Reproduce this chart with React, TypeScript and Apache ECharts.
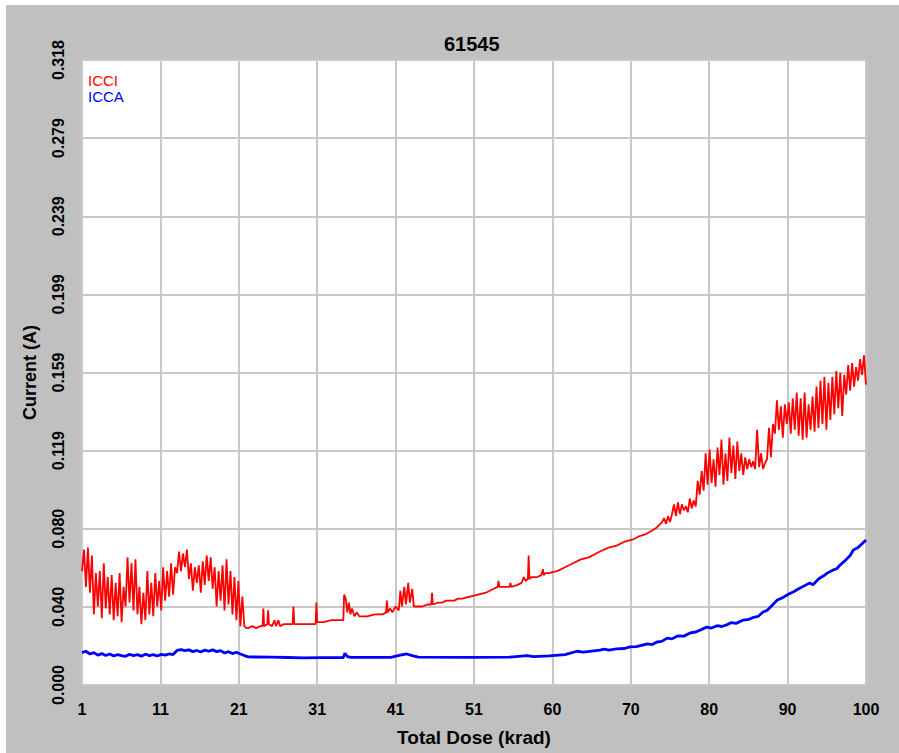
import React, { useEffect, useRef } from "react";
import * as echarts from "echarts";

// Title and axis texts
const chartTitle = "61545";
const xAxisName = "Total Dose (krad)";
const yAxisName = "Current (A)";
const seriesNames = ["ICCI", "ICCA"];

// X tick labels (krad), evenly spaced from 1 to 100
const xTickLabels = ["1", "11", "21", "31", "41", "51", "60", "70", "80", "90", "100"];
// Y axis range (A)
const yMin = 0;
const yMax = 0.3184;
const yStep = 0.0398;

// ICCI (red) — [dose krad, current A]
const icciEarly: [number, number][] = [
  [1.0, 0.058], [1.25, 0.069], [1.5, 0.05], [1.75, 0.07], [2.0, 0.047], [2.25, 0.066],
  [2.5, 0.036], [2.75, 0.057], [3.0, 0.04], [3.25, 0.058], [3.5, 0.034], [3.75, 0.062],
  [4.0, 0.039], [4.25, 0.055], [4.5, 0.036], [4.75, 0.056], [5.0, 0.033], [5.25, 0.052],
  [5.5, 0.035], [5.75, 0.057], [6.0, 0.032], [6.25, 0.05], [6.5, 0.04], [6.75, 0.065],
  [7.0, 0.042], [7.25, 0.062], [7.5, 0.038], [7.75, 0.064], [8.0, 0.036], [8.25, 0.05],
  [8.5, 0.031], [8.75, 0.047], [9.0, 0.033], [9.25, 0.058], [9.5, 0.036], [9.75, 0.052],
  [10.0, 0.035], [10.25, 0.057], [10.5, 0.04], [10.75, 0.053], [11.0, 0.038], [11.25, 0.06],
  [11.5, 0.043], [11.75, 0.058], [12.0, 0.045], [12.25, 0.062], [12.5, 0.046], [12.75, 0.06],
  [13.0, 0.057], [13.25, 0.068], [13.5, 0.058], [13.75, 0.067], [14.0, 0.06], [14.25, 0.069],
  [14.5, 0.054], [14.75, 0.062], [15.0, 0.048], [15.25, 0.06], [15.5, 0.052], [15.75, 0.061],
  [16.0, 0.047], [16.25, 0.063], [16.5, 0.051], [16.75, 0.066], [17.0, 0.053], [17.25, 0.065],
  [17.5, 0.049], [17.75, 0.06], [18.0, 0.04], [18.25, 0.058], [18.5, 0.043], [18.75, 0.061],
  [19.0, 0.038], [19.25, 0.064], [19.5, 0.041], [19.75, 0.058], [20.0, 0.036], [20.25, 0.055],
  [20.5, 0.033], [20.75, 0.053], [21.0, 0.03], [21.25, 0.045], [21.5, 0.03], [21.75, 0.029],
];
const icciMid: [number, number][] = [
  [22.0, 0.029], [22.5, 0.03], [23.0, 0.029], [23.5, 0.03], [23.8, 0.03], [23.9, 0.039],
  [24.0, 0.03], [24.4, 0.031], [24.5, 0.038], [24.6, 0.031], [25.0, 0.03], [25.3, 0.033],
  [25.5, 0.03], [25.8, 0.033], [26.0, 0.03], [26.5, 0.031], [27.0, 0.031], [27.6, 0.031],
  [27.7, 0.04], [27.8, 0.031], [28.5, 0.031], [29.0, 0.031], [29.5, 0.031], [30.0, 0.031],
  [30.5, 0.031], [30.6, 0.042], [30.7, 0.032], [31.5, 0.032], [32.5, 0.033], [33.5, 0.033],
  [34.0, 0.033], [34.1, 0.046], [34.3, 0.044], [34.5, 0.037], [34.7, 0.042], [34.9, 0.036],
  [35.1, 0.039], [35.4, 0.035], [35.7, 0.037], [36.0, 0.035], [37.0, 0.035], [38.0, 0.036],
  [39.0, 0.036], [39.4, 0.037], [39.5, 0.043], [39.6, 0.037], [39.9, 0.039], [40.2, 0.037],
  [40.6, 0.04], [41.0, 0.038], [41.2, 0.048], [41.4, 0.04], [41.7, 0.05], [41.9, 0.041],
  [42.2, 0.052], [42.4, 0.042], [42.7, 0.049], [42.9, 0.04], [43.5, 0.04], [44.0, 0.04],
  [44.6, 0.041], [45.1, 0.041], [45.2, 0.047], [45.3, 0.041], [46.0, 0.042], [46.5, 0.042],
  [47.0, 0.043], [47.5, 0.043], [48.0, 0.043], [48.5, 0.044], [49.0, 0.044], [50.0, 0.045],
  [51.0, 0.046], [52.0, 0.047], [52.5, 0.048], [53.0, 0.049], [53.5, 0.05], [53.6, 0.053],
  [53.7, 0.05], [54.5, 0.05], [55.0, 0.05], [55.1, 0.052], [55.2, 0.05], [56.0, 0.051],
  [56.5, 0.052], [56.8, 0.055], [57.0, 0.053], [57.3, 0.054], [57.4, 0.066], [57.5, 0.054],
  [57.8, 0.055], [58.5, 0.055], [59.0, 0.056], [59.2, 0.059], [59.3, 0.056], [59.5, 0.057],
  [60.0, 0.057], [60.4, 0.0575], [61.0, 0.058], [62.0, 0.06], [63.0, 0.062], [64.0, 0.064],
  [65.0, 0.065], [66.4, 0.068], [67.5, 0.07], [68.5, 0.071], [69.5, 0.073], [70.5, 0.074],
  [71.5, 0.076], [72.3, 0.077], [73.1, 0.079], [73.5, 0.08], [74.0, 0.082], [74.25, 0.083],
];
const icciLate: [number, number][] = [
  [74.5, 0.085], [74.75, 0.082], [75.0, 0.086], [75.25, 0.083], [75.5, 0.087], [75.75, 0.092],
  [76.0, 0.086], [76.25, 0.093], [76.5, 0.087], [76.75, 0.092], [77.0, 0.089], [77.25, 0.091],
  [77.5, 0.088], [77.75, 0.095], [78.0, 0.09], [78.25, 0.094], [78.5, 0.091], [78.75, 0.104],
  [79.0, 0.097], [79.25, 0.109], [79.5, 0.099], [79.75, 0.118], [80.0, 0.102], [80.25, 0.12],
  [80.5, 0.103], [80.75, 0.115], [81.0, 0.101], [81.25, 0.121], [81.5, 0.107], [81.75, 0.125],
  [82.0, 0.102], [82.25, 0.118], [82.5, 0.104], [82.75, 0.126], [83.0, 0.108], [83.25, 0.122],
  [83.5, 0.105], [83.75, 0.124], [84.0, 0.109], [84.25, 0.118], [84.5, 0.107], [84.75, 0.116],
  [85.0, 0.11], [85.25, 0.115], [85.5, 0.111], [85.75, 0.114], [86.0, 0.11], [86.25, 0.13],
  [86.5, 0.111], [86.75, 0.118], [87.0, 0.11], [87.25, 0.113], [87.5, 0.115], [87.75, 0.131],
  [88.0, 0.116], [88.25, 0.133], [88.5, 0.128], [88.75, 0.145], [89.0, 0.13], [89.25, 0.142],
  [89.5, 0.126], [89.75, 0.143], [90.0, 0.133], [90.25, 0.144], [90.5, 0.128], [90.75, 0.146],
  [91.0, 0.13], [91.25, 0.149], [91.5, 0.127], [91.75, 0.146], [92.0, 0.125], [92.25, 0.149],
  [92.5, 0.126], [92.75, 0.143], [93.0, 0.13], [93.25, 0.147], [93.5, 0.129], [93.75, 0.152],
  [94.0, 0.131], [94.25, 0.155], [94.5, 0.133], [94.75, 0.157], [95.0, 0.13], [95.25, 0.154],
  [95.5, 0.135], [95.75, 0.157], [96.0, 0.138], [96.25, 0.16], [96.5, 0.141], [96.75, 0.159],
  [97.0, 0.137], [97.25, 0.158], [97.5, 0.148], [97.75, 0.163], [98.0, 0.15], [98.25, 0.164],
  [98.5, 0.152], [98.75, 0.162], [99.0, 0.155], [99.25, 0.166], [99.5, 0.158], [99.75, 0.168],
  [100.0, 0.153],
];

// ICCA (blue) — [dose krad, current A]
const iccaEarly: [number, number][] = [
  [1.0, 0.0165], [1.5, 0.0172], [2.0, 0.0158], [2.5, 0.0165], [3.0, 0.0152], [3.5, 0.016],
  [4.0, 0.015], [4.5, 0.0158], [5.0, 0.0148], [5.5, 0.0155], [6.0, 0.015], [6.5, 0.0146],
  [7.0, 0.0156], [7.5, 0.015], [8.0, 0.0155], [8.5, 0.0147], [9.0, 0.0157], [9.5, 0.015],
  [10.0, 0.0155], [10.5, 0.0148], [11.0, 0.0156], [11.5, 0.0152], [12.0, 0.0158], [12.5, 0.0155],
  [13.0, 0.0176], [13.5, 0.018], [14.0, 0.0175], [14.5, 0.0179], [15.0, 0.017], [15.5, 0.0176],
  [16.0, 0.0168], [16.5, 0.0178], [17.0, 0.0172], [17.5, 0.0179], [18.0, 0.017], [18.5, 0.0175],
  [19.0, 0.0163], [19.5, 0.017], [20.0, 0.016], [20.5, 0.0167], [21.0, 0.0158], [21.5, 0.015],
];
const iccaMid: [number, number][] = [
  [22.0, 0.0143], [25.0, 0.0142], [27.0, 0.014], [29.0, 0.0138], [31.0, 0.0139], [34.0, 0.014],
  [34.2, 0.0162], [34.5, 0.0145], [35.0, 0.0141], [40.0, 0.0141], [41.2, 0.0152], [42.0, 0.0158],
  [42.7, 0.015], [43.5, 0.0142], [50.0, 0.0141], [55.0, 0.0142], [57.2, 0.015], [58.0, 0.0145],
  [60.0, 0.0148], [62.0, 0.0155], [63.5, 0.0172], [64.3, 0.0168],
];
const iccaLate: [number, number][] = [
  [66.4, 0.0178], [67.0, 0.0183], [67.5, 0.0178], [68.5, 0.0184], [69.5, 0.0186], [70.2, 0.0194],
  [71.0, 0.0196], [72.4, 0.0209], [73.0, 0.0206], [73.6, 0.0219], [74.2, 0.0222], [74.9, 0.0239],
  [75.5, 0.0235], [76.2, 0.025], [77.0, 0.0249], [77.8, 0.0265], [78.5, 0.027], [79.2, 0.0282],
  [79.9, 0.0295], [80.5, 0.029], [81.2, 0.0302], [81.8, 0.0298], [82.4, 0.0306], [83.0, 0.0318],
  [83.6, 0.0314], [84.5, 0.0331], [85.2, 0.0334], [85.8, 0.0345], [86.4, 0.035], [87.0, 0.0372],
  [87.5, 0.038], [88.0, 0.04], [88.8, 0.0433], [89.5, 0.0445], [90.2, 0.0462], [90.8, 0.0474],
  [91.5, 0.049], [92.2, 0.0505], [92.9, 0.052], [93.3, 0.051], [94.0, 0.054], [94.6, 0.0555],
  [95.1, 0.057], [95.8, 0.0585], [96.3, 0.0592], [96.7, 0.061], [97.4, 0.0635], [98.0, 0.066],
  [98.4, 0.0688], [99.0, 0.07], [99.5, 0.072], [100.0, 0.0739],
];

const FONT = '"Liberation Sans", Arial, sans-serif';

export default function App() {
  const ref = useRef<HTMLDivElement>(null);

  useEffect(() => {
    document.body.style.margin = "0";
    if (!ref.current) return;
    const chart = echarts.init(ref.current, null, { renderer: "svg" });
    const icci = [...icciEarly, ...icciMid, ...icciLate];
    const icca = [...iccaEarly, ...iccaMid, ...iccaLate];
    chart.setOption({
      animation: false,
      backgroundColor: "#c0c0c0",
      title: {
        text: chartTitle,
        left: 438,
        top: 29,
        padding: 0,
        textStyle: { fontFamily: FONT, fontSize: 20, fontWeight: "bold", color: "#000" },
      },
      legend: {
        data: [
          { name: seriesNames[0], textStyle: { color: "#ff0000" } },
          { name: seriesNames[1], textStyle: { color: "#0000ff" } },
        ],
        orient: "vertical",
        left: 77,
        top: 67,
        padding: 0,
        icon: "none",
        itemWidth: 0,
        itemHeight: 12,
        itemGap: 0,
        textStyle: { fontFamily: FONT, fontSize: 15, lineHeight: 16 },
      },
      grid: {
        left: 76,
        top: 55,
        width: 784,
        height: 625,
        show: true,
        backgroundColor: "#ffffff",
        borderColor: "#d4d4d4",
        borderWidth: 1,
      },
      xAxis: [
        {
          type: "value",
          min: 1,
          max: 100,
          show: false,
          splitLine: { show: false },
        },
        {
          type: "category",
          data: xTickLabels,
          boundaryGap: false,
          position: "bottom",
          axisLine: { show: false },
          axisTick: { show: false },
          splitLine: { show: true, lineStyle: { color: "#c8c8c8", width: 2 } },
          axisLabel: {
            fontFamily: FONT,
            fontSize: 16,
            fontWeight: "bold",
            color: "#000",
            margin: 16,
          },
          name: xAxisName,
          nameLocation: "middle",
          nameGap: 43,
          nameTextStyle: { fontFamily: FONT, fontSize: 19, fontWeight: "bold", color: "#000" },
        },
      ],
      yAxis: {
        type: "value",
        min: yMin,
        max: yMax,
        interval: yStep,
        axisLine: { show: false },
        axisTick: { show: false },
        splitLine: { show: true, lineStyle: { color: "#c8c8c8", width: 2 } },
        axisLabel: {
          fontFamily: FONT,
          fontSize: 16,
          fontWeight: "bold",
          color: "#000",
          rotate: 90,
          margin: 16,
          formatter: (v: number) => v.toFixed(3),
        },
        name: yAxisName,
        nameLocation: "middle",
        nameGap: 43,
        nameTextStyle: { fontFamily: FONT, fontSize: 18, fontWeight: "bold", color: "#000" },
      },
      series: [
        {
          name: seriesNames[0],
          type: "line",
          xAxisIndex: 0,
          data: icci,
          showSymbol: false,
          symbol: "none",
          lineStyle: { color: "#ff0000", width: 1.8 },
          itemStyle: { color: "#ff0000" },
          z: 3,
        },
        {
          name: seriesNames[1],
          type: "line",
          xAxisIndex: 0,
          data: icca,
          showSymbol: false,
          symbol: "none",
          lineStyle: { color: "#0000ff", width: 2.8 },
          itemStyle: { color: "#0000ff" },
          z: 4,
        },
      ],
    });
    return () => chart.dispose();
  }, []);

  return (
    <div style={{ width: 899, height: 753, background: "#ffffff", position: "relative" }}>
      <div
        ref={ref}
        style={{ position: "absolute", left: 6, top: 5, width: 893, height: 748 }}
      />
    </div>
  );
}
